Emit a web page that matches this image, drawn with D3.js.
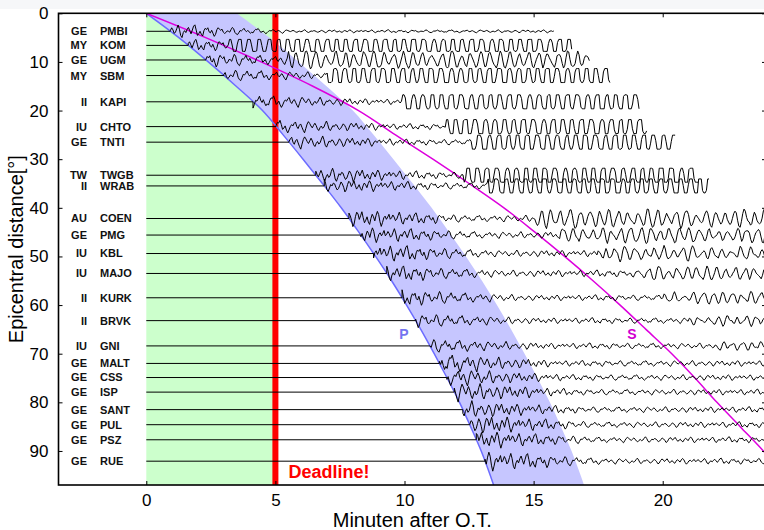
<!DOCTYPE html>
<meta charset="utf-8">
<style>
body { margin: 0; background: #fff; }
svg { display: block; font-family: "Liberation Sans", Arial, sans-serif; }
.sta text { font-size: 11px; font-weight: bold; fill: #111; }
</style>
<svg class="chart"></svg>
<script src="https://d3js.org/d3.v7.min.js"></script>
<script>

// station list, top to bottom
var networks = ["GE","MY","GE","MY","II","IU","GE","TW","II","AU","GE","IU","IU","II","II","IU","GE","GE","GE","GE","GE","GE","GE"];
var stations = ["PMBI","KOM","UGM","SBM","KAPI","CHTO","TNTI","TWGB","WRAB","COEN","PMG","KBL","MAJO","KURK","BRVK","GNI","MALT","CSS","ISP","SANT","PUL","PSZ","RUE"];
var distances = [3.7, 6.6, 9.6, 12.8, 18.2, 23.3, 26.5, 33.3, 35.5, 42.2, 45.6, 49.4, 53.5, 58.5, 63.2, 68.4, 72.0, 74.9, 77.9, 81.5, 84.6, 87.7, 92.1];
// minutes where each record stops
var traceEnds = [15.8, 16.5, 17.2, 18.0, 19.1, 19.4, 20.5, 21.4, 21.8, 24.5, 24.5, 24.5, 24.5, 24.5, 24.5, 24.5, 24.5, 24.5, 24.5, 24.5, 24.5, 24.5, 24.5];
// amplitude (px) at the P onset and in the coda
var pAmps = [7, 6, 7, 6, 7, 7, 7, 8, 7, 9, 8, 9, 8, 8, 7, 7, 10, 9, 10, 9, 10, 9, 10];
var codaAmps = [1.5, 3, 3.5, 3, 3, 3, 3, 3.5, 3.5, 3.5, 3.5, 3.5, 3.5, 3, 3, 3, 3, 3, 3, 3, 3, 3, 3];
// long period (surface) waves: start minute, amplitude, clipping level
var swellStarts = [99, 3.2, 5.5, 7.0, 9.9, 11.6, 12.6, 12.3, 13.2, 15.0, 16.0, 17.5, 18.8, 20.0, 21.0, 22.0, 99, 99, 99, 99, 99, 99, 99];
var swellAmps = [0, 16, 7, 16, 16, 16, 16, 16, 16, 7, 6, 5, 5, 4, 3, 3, 0, 0, 0, 0, 0, 0, 0];
var clips = [8, 6, 9, 7, 7, 7, 7, 7, 7, 12, 12, 12, 12, 12, 12, 12, 12, 12, 12, 12, 12, 12, 12];

// travel time tables (degrees -> minutes)
var ttDist = [0, 5, 10, 15, 20, 25, 30, 35, 40, 45, 50, 55, 60, 65, 70, 75, 80, 85, 90, 95, 97];
var pTimes = [0, 1.26, 2.4, 3.48, 4.5, 5.3, 6.07, 6.82, 7.55, 8.23, 8.88, 9.5, 10.08, 10.63, 11.15, 11.65, 12.13, 12.56, 12.97, 13.32, 13.45];
var sTimes = [0, 2.3, 4.45, 6.45, 8.22, 9.65, 11.1, 12.5, 13.85, 15.05, 16.2, 17.3, 18.35, 19.35, 20.35, 21.25, 22.1, 23.0, 23.9, 24.7, 25.0];
var pWindow = 3.5;   // width of the blue P band, minutes

// hand-drawn seismogram samples (short period)
var noise = [0.1, 0.5, 0.2, -0.3, -0.1, 0.4, 0.9, 0.3, -0.6, -0.9,
  -0.2, 0.1, -0.2, 0.3, 0.6, 0.1, -0.4, 0.2, 0.8, 1.0,
  0.2, -0.7, -0.4, 0.0, -0.5, -0.8, 0.1, 0.5, 0.3, 0.6,
  -0.1, -0.3, 0.2, -0.4, -1.0, -0.6, 0.3, 0.7, 0.4, 0.2,
  0.5, -0.2, -0.5, -0.3, 0.1, 0.0, -0.2, 0.4, 0.9, 0.6,
  -0.3, -0.7, -0.9, -0.4, 0.2, 0.1, 0.4, 0.8, 0.2, -0.1,
  0.3, -0.2, -0.6, -0.3, -0.5, 0.2, 0.6, 0.5, 0.9, 0.3,
  -0.4, -0.2, 0.1, -0.5, -0.9, -0.5, 0.0, 0.3, 0.1, 0.5,
  0.7, 0.0, -0.3, 0.2, 0.4, -0.1, -0.6, -1.0, -0.3, 0.4,
  0.8, 0.5, 0.1, -0.2, 0.2, 0.6, 0.2, -0.4, -0.7, -0.2,
  0.1, -0.3, -0.1, 0.5, 1.0, 0.4, -0.5, -0.8, -0.3, 0.2,
  0.0, 0.4, 0.3, -0.2, -0.6, -0.4, 0.1, 0.6, 0.3, -0.2,
  -0.9, -0.6, 0.2, 0.7, 0.5, -0.1, 0.3, 0.8, 0.1, -0.5,
  -0.2, 0.2, -0.4, -0.7, 0.0, 0.5, 0.2, -0.3, 0.4, 0.9,
  0.5, -0.4, -1.0, -0.5, 0.1, 0.3, -0.1, 0.2, 0.6, -0.1];
// long period samples
var swell = [0.3, 0.9, 1.0, 0.5, -0.4, -1.0, -0.8, -0.1, 0.6, 1.0,
  0.8, 0.2, -0.5, -0.9, -1.0, -0.5, 0.3, 0.8, 0.7, 0.1,
  -0.6, -1.0, -0.7, 0.2, 0.9, 1.0, 0.4, -0.3, -0.8, -0.9,
  -0.4, 0.4, 1.0, 0.7, -0.2, -0.9, -1.0, -0.3, 0.5, 0.9,
  0.6, -0.1, -0.7, -1.0, -0.6];
// amplitude fall-off after P, per half minute
var decay = [1, 0.9, 0.8, 0.65, 0.5, 0.4, 0.3, 0.2, 0.1, 0];

var xTicks = [0, 5, 10, 15, 20];
var yTicks = [0, 10, 20, 30, 40, 50, 60, 70, 80, 90];
var deadline = 5;

var width = 764, height = 530,
    plotLeft = 58.5, plotRight = 766, plotTop = 13.3, plotBottom = 485,
    dt = 0.05;

var chart = d3.select(".chart").attr("width", width).attr("height", height);

var x = d3.scaleLinear().domain([-3.4, 24]).range([plotLeft, plotRight]);
var y = d3.scaleLinear().domain([0, 97]).range([plotTop, plotBottom]);
var pAt = d3.scaleLinear().domain(ttDist).range(pTimes);

// faint strip at the very top
chart.append("rect").attr("x", 0).attr("y", 0).attr("width", width).attr("height", 9).attr("fill", "#f6f7f9");

chart.append("defs").append("clipPath").attr("id", "plot")
  .append("rect").attr("x", plotLeft).attr("y", plotTop)
  .attr("width", plotRight - plotLeft).attr("height", plotBottom - plotTop);

var plot = chart.append("g").attr("clip-path", "url(#plot)");

// time before the deadline
plot.append("rect")
  .attr("x", x(0)).attr("y", plotTop)
  .attr("width", x(deadline) - x(0)).attr("height", plotBottom - plotTop)
  .attr("fill", "#ccffcc");

// P window
var tt = ttDist.map(function(d, i) { return {d: d, p: pTimes[i], s: sTimes[i]}; });
plot.append("path")
  .datum(tt)
  .attr("fill", "#c6c6ff")
  .attr("d", d3.area().curve(d3.curveMonotoneY)
    .y(function(d) { return y(d.d); })
    .x0(function(d) { return x(d.p); })
    .x1(function(d) { return x(d.p + pWindow); }));

// deadline bar
plot.append("rect")
  .attr("x", x(deadline) - 3).attr("y", plotTop)
  .attr("width", 6).attr("height", plotBottom - plotTop)
  .attr("fill", "#ff0000");

plot.append("path")
  .datum(tt)
  .attr("fill", "none").attr("stroke", "#6c6cff").attr("stroke-width", 1.5)
  .attr("d", d3.line().curve(d3.curveMonotoneY)
    .y(function(d) { return y(d.d); })
    .x(function(d) { return x(d.p); }));

plot.append("path")
  .datum(tt)
  .attr("fill", "none").attr("stroke", "#dd00dd").attr("stroke-width", 1.5)
  .attr("d", d3.line().curve(d3.curveMonotoneY)
    .y(function(d) { return y(d.d); })
    .x(function(d) { return x(d.s); }));

// seismograms: flat until P, then samples scaled by the station amplitudes
function tracePoints(i) {
  var p = pAt(distances[i]);
  var pts = [[0, 0], [p, 0]];
  var n = Math.floor((traceEnds[i] - p) / dt);
  for (var k = 0; k <= n; k++) {
    var t = p + k * dt;
    var a = codaAmps[i] + (pAmps[i] - codaAmps[i]) * decay[Math.min(Math.floor(k * dt * 2), decay.length - 1)];
    var v = noise[(k + i * 13) % noise.length] * a;
    if (t >= swellStarts[i]) v += swell[(k + i * 7) % swell.length] * swellAmps[i];
    v = Math.max(-clips[i], Math.min(clips[i], v));
    pts.push([t, v]);
  }
  return pts;
}

distances.forEach(function(dist, i) {
  plot.append("path")
    .datum(tracePoints(i))
    .attr("fill", "none").attr("stroke", "#000").attr("stroke-width", 1)
    .attr("stroke-linejoin", "round")
    .attr("d", d3.line()
      .x(function(d) { return x(d[0]); })
      .y(function(d) { return y(dist) - d[1]; }));
});

// phase names and deadline text
chart.append("text").attr("x", 404).attr("y", 339).attr("text-anchor", "middle")
  .style("font-size", "14px").style("font-weight", "bold").attr("fill", "#7474f0").text("P");
chart.append("text").attr("x", 632).attr("y", 339).attr("text-anchor", "middle")
  .style("font-size", "14px").style("font-weight", "bold").attr("fill", "#d000d0").text("S");
chart.append("text").attr("x", x(deadline) + 13).attr("y", 478)
  .style("font-size", "18px").style("font-weight", "bold").attr("fill", "#ff0000").text("Deadline!");

// station labels
var labels = chart.append("g").attr("class", "sta");
labels.selectAll("text.net").data(distances).enter().append("text")
  .attr("class", "net")
  .attr("x", 87).attr("y", function(d) { return y(d); }).attr("dy", "0.36em")
  .attr("text-anchor", "end")
  .text(function(d, i) { return networks[i]; });
labels.selectAll("text.code").data(distances).enter().append("text")
  .attr("class", "code")
  .attr("x", 100).attr("y", function(d) { return y(d); }).attr("dy", "0.36em")
  .text(function(d, i) { return stations[i]; });

// axes, ticks pointing inward, mirrored on top/right
function noDomain(g) { g.select(".domain").remove(); }
chart.append("g").attr("class", "axis").attr("transform", "translate(0," + plotBottom + ")")
  .call(d3.axisBottom(x).tickValues(xTicks).tickSizeInner(-4).tickSizeOuter(0).tickPadding(9))
  .call(noDomain);
chart.append("g").attr("class", "axis").attr("transform", "translate(" + plotLeft + ",0)")
  .call(d3.axisLeft(y).tickValues(yTicks).tickSizeInner(-4).tickSizeOuter(0).tickPadding(10))
  .call(noDomain);
chart.append("g").attr("class", "axis").attr("transform", "translate(0," + plotTop + ")")
  .call(d3.axisTop(x).tickValues(xTicks).tickSizeInner(-4).tickSizeOuter(0).tickFormat(""))
  .call(noDomain);
chart.append("g").attr("class", "axis").attr("transform", "translate(" + plotRight + ",0)")
  .call(d3.axisRight(y).tickValues(yTicks).tickSizeInner(-4).tickSizeOuter(0).tickFormat(""))
  .call(noDomain);
chart.selectAll(".axis line").attr("stroke", "#000");
chart.selectAll(".axis text").style("font-size", "17px").attr("fill", "#000")
  .style("font-family", "'Liberation Sans', Arial, sans-serif");

chart.append("rect")
  .attr("x", plotLeft).attr("y", plotTop)
  .attr("width", plotRight - plotLeft).attr("height", plotBottom - plotTop)
  .attr("fill", "none").attr("stroke", "#000").attr("stroke-width", 1.6);

chart.append("text").attr("x", (plotLeft + plotRight) / 2).attr("y", 527).attr("text-anchor", "middle")
  .style("font-size", "20px").text("Minuten after O.T.");
chart.append("text").attr("transform", "translate(23," + (plotTop + plotBottom) / 2 + ") rotate(-90)")
  .attr("text-anchor", "middle")
  .style("font-size", "20px").text("Epicentral distance[°]");

</script>
